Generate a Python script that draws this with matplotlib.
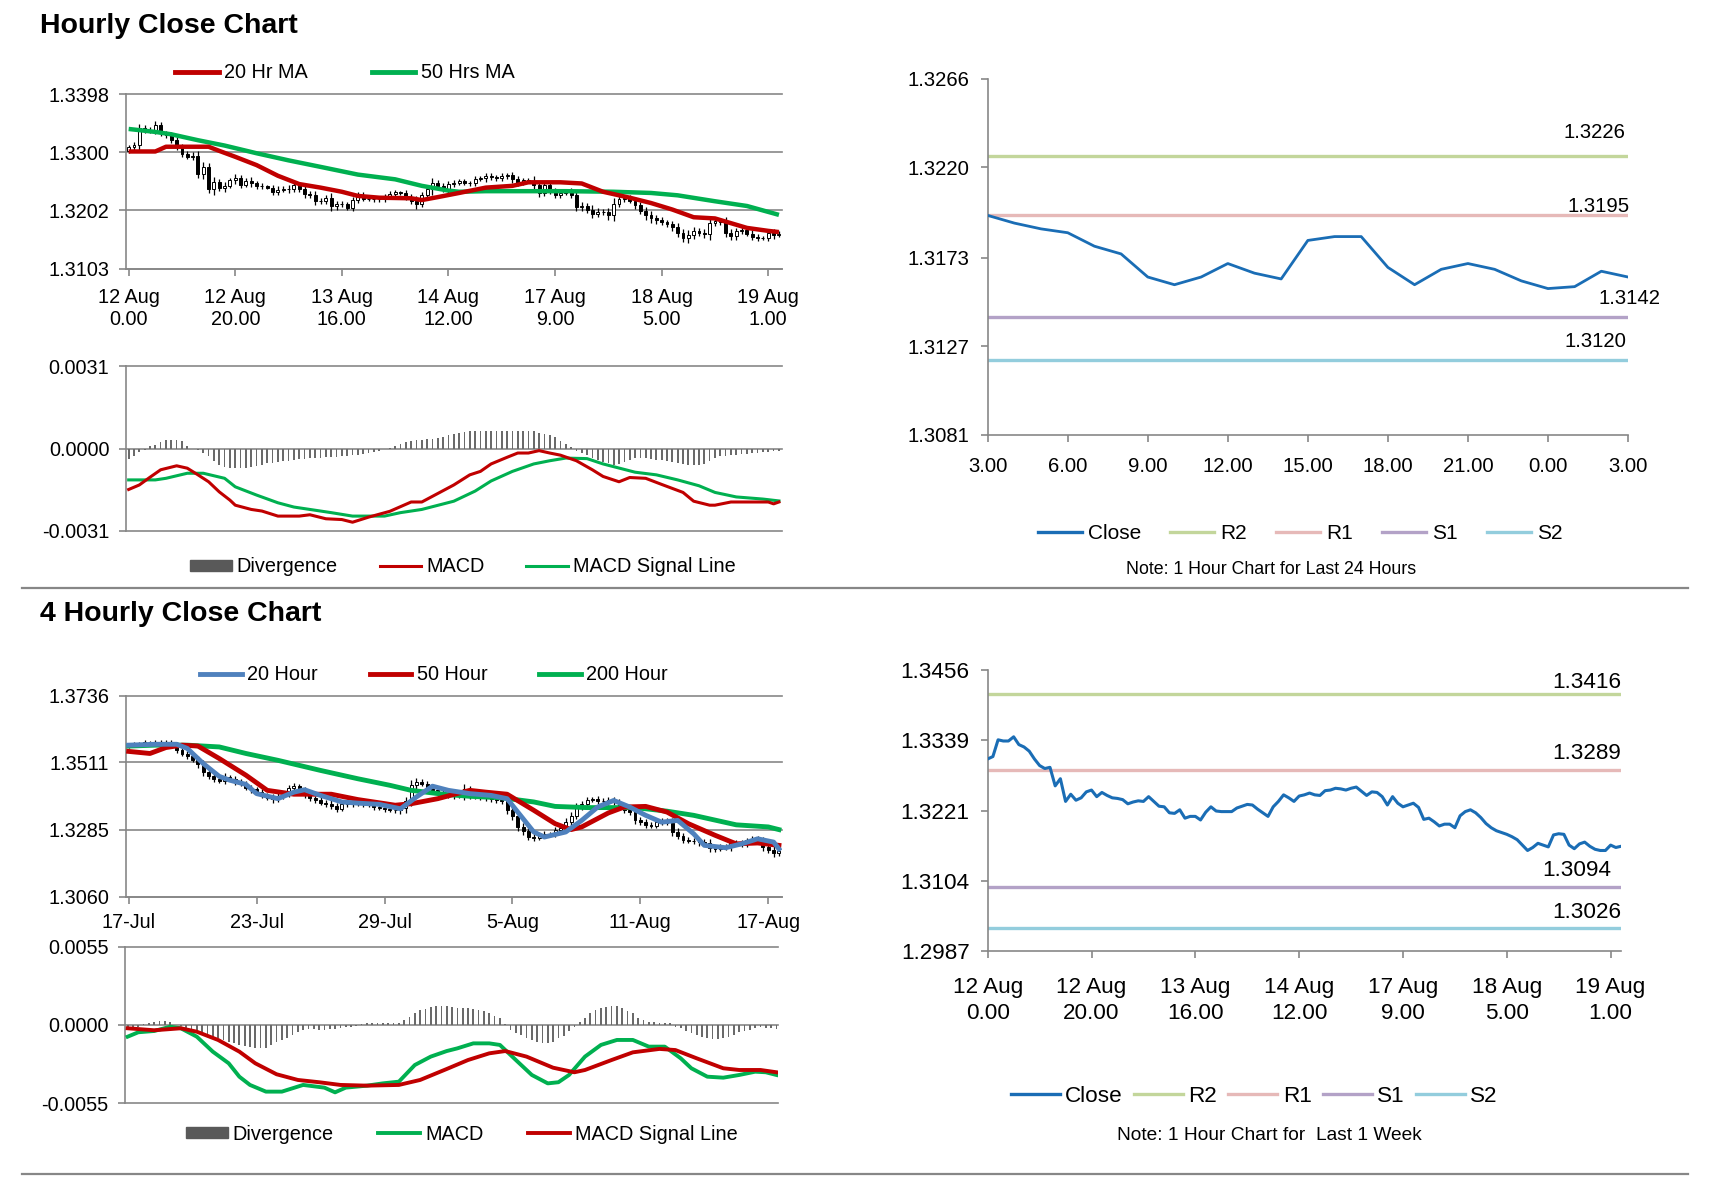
import matplotlib
matplotlib.use("Agg")
import matplotlib.pyplot as plt
import numpy as np
from matplotlib.lines import Line2D
from matplotlib.patches import Patch

plt.rcParams['font.family'] = ['Liberation Sans', 'DejaVu Sans']

# ------------------------------------------------------------------ data
hourly_labels = ["12 Aug\n0.00", "12 Aug\n20.00", "13 Aug\n16.00", "14 Aug\n12.00",
                 "17 Aug\n9.00", "18 Aug\n5.00", "19 Aug\n1.00"]
hourly_first_open = 1.3302
hourly_close = [
    1.3308, 1.3312, 1.3340, 1.3338, 1.3338, 1.3345, 1.3332, 1.3328, 1.3321, 1.3308,
    1.3297, 1.3292, 1.3294, 1.3263, 1.3275, 1.3237, 1.3249, 1.3239, 1.3243, 1.3253,
    1.3256, 1.3245, 1.3252, 1.3247, 1.3243, 1.3242, 1.3240, 1.3233, 1.3236, 1.3238,
    1.3237, 1.3245, 1.3237, 1.3229, 1.3228, 1.3218, 1.3217, 1.3223, 1.3209, 1.3212,
    1.3212, 1.3206, 1.3219, 1.3228, 1.3221, 1.3220, 1.3220, 1.3220, 1.3226, 1.3229,
    1.3232, 1.3231, 1.3224, 1.3218, 1.3212, 1.3228, 1.3237, 1.3248, 1.3243, 1.3237,
    1.3246, 1.3248, 1.3251, 1.3248, 1.3247, 1.3255, 1.3256, 1.3259, 1.3258, 1.3256,
    1.3259, 1.3261, 1.3254, 1.3247, 1.3253, 1.3252, 1.3245, 1.3231, 1.3245, 1.3234,
    1.3228, 1.3231, 1.3234, 1.3227, 1.3207, 1.3209, 1.3203, 1.3196, 1.3199, 1.3199,
    1.3193, 1.3213, 1.3220, 1.3223, 1.3218, 1.3210, 1.3200, 1.3193, 1.3188, 1.3185,
    1.3182, 1.3178, 1.3173, 1.3164, 1.3155, 1.3160, 1.3167, 1.3164, 1.3161, 1.3181,
    1.3183, 1.3182, 1.3164, 1.3158, 1.3166, 1.3169, 1.3162, 1.3157, 1.3155, 1.3155,
    1.3164, 1.3160, 1.3162]
hourly_wick = [
    4, 5, 8, 6, 5, 7, 5, 4, 6, 5,
    5, 4, 6, 7, 8, 6, 9, 5, 6, 4,
    7, 5, 4, 6, 5, 4, 3, 5, 6, 4,
    6, 5, 4, 6, 5, 7, 5, 4, 8, 6,
    5, 4, 6, 5, 4, 3, 4, 5, 4, 5,
    4, 3, 5, 6, 8, 5, 6, 9, 5, 4,
    6, 5, 4, 3, 4, 5, 4, 6, 5, 4,
    5, 4, 6, 5, 3, 4, 7, 6, 5, 4,
    5, 6, 4, 5, 7, 6, 5, 8, 6, 5,
    7, 9, 6, 5, 4, 6, 5, 7, 8, 6,
    5, 4, 6, 8, 6, 9, 7, 5, 6, 10,
    6, 5, 8, 7, 6, 5, 4, 6, 5, 4,
    5, 6, 4]
top_ma20_idx = [0, 5, 7, 15, 17, 20, 24, 28, 32, 36, 40, 43, 47, 53, 55, 58, 62, 67, 72, 75,
                81, 85, 89, 94, 98, 102, 106, 110, 113, 116, 120, 122]
top_ma20 = [1.3301, 1.3301, 1.3309, 1.3309, 1.3302, 1.3292, 1.3278, 1.3260, 1.3246, 1.3240,
            1.3233, 1.3226, 1.3223, 1.3222, 1.3219, 1.3224, 1.3231, 1.3240, 1.3243, 1.3249,
            1.3249, 1.3247, 1.3233, 1.3223, 1.3214, 1.3203, 1.3190, 1.3188, 1.3180, 1.3172,
            1.3167, 1.3165]
top_ma50_idx = [0, 5, 8, 13, 18, 24, 30, 36, 43, 50, 55, 60, 62, 67, 72, 82, 91, 98, 103, 110,
                116, 122]
top_ma50 = [1.3339, 1.3334, 1.3330, 1.3320, 1.3311, 1.3298, 1.3286, 1.3275, 1.3262, 1.3254,
            1.3243, 1.3235, 1.3233, 1.3234, 1.3234, 1.3234, 1.3233, 1.3231, 1.3227, 1.3217,
            1.3209, 1.3194]
top_div = [  # x 1e-4
    -3.8, -3.0, -1.5, -0.5, 0.8, 1.5, 2.5, 3.2, 3.3, 3.2,
    2.8, 1.0, 0.0, -0.6, -1.6, -2.9, -4.8, -6.1, -7.0, -7.4,
    -7.4, -7.4, -7.2, -6.8, -6.4, -6.1, -5.6, -5.4, -5.0, -4.8,
    -4.6, -4.3, -4.0, -3.8, -3.6, -3.5, -3.4, -3.3, -3.2, -3.1,
    -3.0, -2.8, -2.6, -2.3, -2.0, -1.6, -1.2, -0.8, -0.3, 0.2,
    1.0, 1.8, 2.6, 3.0, 3.2, 3.3, 3.4, 3.6, 4.0, 4.5,
    5.0, 5.4, 5.8, 6.2, 6.5, 6.6, 6.6, 6.6, 6.6, 6.6,
    6.6, 6.6, 6.6, 6.6, 6.6, 6.6, 6.6, 6.0, 5.4, 4.9,
    4.2, 3.0, 1.6, 0.4, -0.8, -1.8, -2.6, -3.4, -4.2, -5.0,
    -5.6, -6.1, -6.0, -5.2, -4.3, -3.6, -3.4, -3.6, -4.0, -4.2,
    -4.3, -4.6, -5.0, -5.5, -5.9, -6.2, -6.3, -6.2, -5.8, -4.6,
    -3.6, -3.0, -2.8, -2.6, -2.4, -2.2, -2.0, -1.8, -1.6, -1.4,
    -1.2, -1.0, -0.8]
top_macd_idx = [0, 2, 4, 6, 9, 11, 13, 15, 17, 19, 20, 23, 25, 28, 32, 34, 37, 40, 42, 45,
                49, 53, 55, 58, 61, 64, 66, 68, 71, 73, 75, 77, 79, 81, 84, 87, 89, 92, 94, 97,
                100, 104, 106, 109, 110, 113, 120, 121, 122]
top_macd = [-0.00154, -0.00137, -0.00108, -0.00080, -0.00065, -0.00074, -0.00099, -0.00125,
            -0.00163, -0.00194, -0.00213, -0.00229, -0.00235, -0.00254, -0.00254, -0.00249,
            -0.00264, -0.00267, -0.00277, -0.00258, -0.00236, -0.00201, -0.00201, -0.00169,
            -0.00137, -0.00099, -0.00086, -0.00058, -0.00033, -0.00017, -0.00017, -0.00008,
            -0.00017, -0.00025, -0.00046, -0.00080, -0.00105, -0.00125, -0.00109, -0.00112,
            -0.00135, -0.00165, -0.00198, -0.00213, -0.00213, -0.00201, -0.00201, -0.00208,
            -0.00201]
top_sig_idx = [0, 5, 7, 11, 14, 18, 20, 24, 28, 31, 34, 38, 42, 45, 48, 51, 55, 61, 65, 68,
               72, 76, 79, 82, 86, 89, 95, 99, 103, 107, 110, 114, 119, 122]
top_sig = [-0.00118, -0.00118, -0.00112, -0.00093, -0.00093, -0.00112, -0.00144, -0.00175,
           -0.00204, -0.00220, -0.00229, -0.00241, -0.00254, -0.00254, -0.00254, -0.00241,
           -0.00229, -0.00198, -0.00160, -0.00122, -0.00086, -0.00058, -0.00046, -0.00036,
           -0.00038, -0.00058, -0.00089, -0.00099, -0.00118, -0.00140, -0.00165, -0.00182,
           -0.00190, -0.00197]

day_hour_labels = ["3.00", "6.00", "9.00", "12.00", "15.00", "18.00", "21.00", "0.00", "3.00"]
day_close = [1.3195, 1.3191, 1.3188, 1.3186, 1.3179, 1.3175, 1.3163, 1.3159, 1.3163, 1.3170,
             1.3165, 1.3162, 1.3182, 1.3184, 1.3184, 1.3168, 1.3159, 1.3167, 1.3170, 1.3167,
             1.3161, 1.3157, 1.3158, 1.3166, 1.3163]
level_names = ["R2", "R1", "S1", "S2"]
day_levels = [1.3226, 1.3195, 1.3142, 1.3120]
week_levels = [1.3416, 1.3289, 1.3094, 1.3026]

four_labels = ["17-Jul", "23-Jul", "29-Jul", "5-Aug", "11-Aug", "17-Aug"]
four_first_open = 1.3565
four_close = [
    1.3570, 1.3575, 1.3572, 1.3578, 1.3574, 1.3580, 1.3576, 1.3579, 1.3572, 1.3552,
    1.3540, 1.3533, 1.3520, 1.3505, 1.3480, 1.3465, 1.3455, 1.3450, 1.3462, 1.3455,
    1.3445, 1.3440, 1.3425, 1.3420, 1.3410, 1.3400, 1.3392, 1.3388, 1.3398, 1.3405,
    1.3425, 1.3430, 1.3420, 1.3400, 1.3390, 1.3385, 1.3375, 1.3372, 1.3365, 1.3355,
    1.3370, 1.3376, 1.3372, 1.3375, 1.3370, 1.3368, 1.3360, 1.3358, 1.3355, 1.3352,
    1.3350, 1.3356, 1.3382, 1.3435, 1.3446, 1.3440, 1.3425, 1.3418, 1.3410, 1.3405,
    1.3400, 1.3408, 1.3402, 1.3423, 1.3398, 1.3396, 1.3400, 1.3392, 1.3388, 1.3385,
    1.3380, 1.3350, 1.3330, 1.3295, 1.3280, 1.3261, 1.3258, 1.3266, 1.3270, 1.3268,
    1.3285, 1.3290, 1.3312, 1.3330, 1.3362, 1.3370, 1.3385, 1.3388, 1.3382, 1.3380,
    1.3384, 1.3378, 1.3360, 1.3352, 1.3345, 1.3317, 1.3310, 1.3300, 1.3298, 1.3312,
    1.3315, 1.3308, 1.3278, 1.3265, 1.3250, 1.3248, 1.3245, 1.3242, 1.3240, 1.3222,
    1.3220, 1.3227, 1.3225, 1.3239, 1.3240, 1.3236, 1.3250, 1.3255, 1.3248, 1.3225,
    1.3218, 1.3207, 1.3212]
four_wick = [
    5, 6, 5, 7, 6, 8, 5, 6, 7, 9,
    8, 10, 9, 12, 14, 11, 10, 9, 12, 8,
    10, 9, 8, 11, 9, 10, 8, 12, 9, 10,
    11, 13, 9, 8, 10, 9, 8, 11, 12, 10,
    9, 8, 10, 9, 8, 7, 9, 8, 10, 9,
    8, 11, 14, 16, 12, 10, 9, 8, 10, 9,
    8, 12, 10, 16, 9, 8, 10, 11, 9, 12,
    10, 14, 12, 15, 13, 11, 10, 9, 10, 8,
    9, 10, 12, 14, 11, 10, 9, 8, 10, 9,
    11, 10, 9, 12, 10, 14, 11, 10, 9, 8,
    10, 9, 15, 12, 10, 9, 8, 11, 10, 12,
    9, 8, 10, 11, 9, 10, 8, 9, 10, 12,
    11, 13, 10]
bot_ma20_idx = [0, 5, 9, 11, 14, 17, 19, 22, 24, 28, 31, 33, 36, 40, 43, 47, 51, 54, 57, 60,
                64, 68, 71, 73, 76, 78, 82, 85, 88, 91, 94, 97, 100, 103, 106, 108, 112, 115,
                118, 121, 122]
bot_ma20 = [1.3569, 1.3572, 1.3572, 1.3558, 1.3507, 1.3464, 1.3451, 1.3437, 1.3406, 1.3389,
            1.3411, 1.3419, 1.3400, 1.3378, 1.3374, 1.3370, 1.3355, 1.3395, 1.3431, 1.3417,
            1.3406, 1.3400, 1.3389, 1.3344, 1.3277, 1.3260, 1.3277, 1.3316, 1.3361, 1.3383,
            1.3361, 1.3333, 1.3310, 1.3316, 1.3271, 1.3232, 1.3224, 1.3237, 1.3254, 1.3243,
            1.3220]
bot_ma50_idx = [0, 4, 7, 10, 13, 17, 22, 26, 31, 38, 43, 50, 53, 58, 62, 64, 67, 71, 76, 80,
                83, 85, 90, 93, 97, 101, 105, 110, 114, 118, 122]
bot_ma50 = [1.3548, 1.3541, 1.3561, 1.3569, 1.3566, 1.3524, 1.3468, 1.3417, 1.3404, 1.3404,
            1.3386, 1.3367, 1.3372, 1.3389, 1.3408, 1.3417, 1.3411, 1.3404, 1.3350, 1.3305,
            1.3285, 1.3294, 1.3341, 1.3361, 1.3363, 1.3344, 1.3305, 1.3266, 1.3237, 1.3240,
            1.3232]
bot_ma200_idx = [0, 5, 11, 17, 22, 28, 36, 43, 49, 53, 59, 64, 70, 76, 80, 86, 95, 101, 106,
                 114, 120, 122]
bot_ma200 = [1.3566, 1.3569, 1.3569, 1.3563, 1.3541, 1.3518, 1.3484, 1.3456, 1.3434, 1.3417,
             1.3404, 1.3397, 1.3392, 1.3378, 1.3363, 1.3359, 1.3359, 1.3347, 1.3333, 1.3301,
             1.3294, 1.3285]
bot_div = [  # x 1e-4
    -2.3, -2.0, -1.2, 0.8, 1.6, 2.0, 2.6, 2.8, 2.0, 0.3,
    -1.0, -2.3, -3.5, -4.7, -5.8, -7.0, -8.2, -9.4, -10.5, -11.7,
    -12.9, -14.0, -15.0, -15.5, -16.0, -16.4, -16.2, -14.0, -12.0, -10.5,
    -8.8, -7.0, -5.2, -3.5, -3.0, -2.8, -3.2, -3.5, -3.0, -2.6,
    -2.3, -1.6, -1.2, -0.6, 0.6, 1.2, 1.4, 1.2, 1.5, 1.6,
    1.4, 1.6, 3.5, 5.9, 8.5, 10.5, 11.5, 12.4, 13.2, 13.6,
    13.4, 12.8, 12.2, 11.9, 11.7, 11.2, 10.5, 9.5, 8.2, 6.6,
    4.7, 0.5, -3.5, -5.5, -7.0, -9.0, -10.5, -12.0, -12.9, -12.6,
    -11.7, -9.4, -7.5, -4.5, -1.5, 2.0, 4.7, 8.2, 10.5, 11.7,
    12.8, 13.6, 13.2, 11.7, 9.8, 8.2, 5.0, 3.5, 2.3, 1.9,
    1.6, 1.4, 1.2, -1.2, -2.3, -4.0, -5.9, -7.0, -8.2, -9.4,
    -10.0, -9.6, -9.4, -8.2, -7.0, -4.7, -4.0, -3.5, -2.0, -1.6,
    -2.0, -2.3, -2.8]
bot_macd_idx = [0, 2, 5, 8, 10, 13, 16, 19, 21, 23, 26, 29, 33, 37, 39, 41, 45, 48, 51, 54,
                57, 60, 62, 65, 68, 70, 73, 76, 79, 81, 83, 86, 89, 92, 95, 98, 101, 104, 106,
                109, 112, 115, 118, 120, 122]
bot_macd = [-0.00082, -0.00051, -0.00042, -0.00012, -0.00023, -0.00082, -0.00187, -0.00269,
            -0.00363, -0.00421, -0.00468, -0.00468, -0.00421, -0.00440, -0.00473, -0.00440,
            -0.00426, -0.00410, -0.00398, -0.00281, -0.00222, -0.00183, -0.00164, -0.00129,
            -0.00129, -0.00140, -0.00246, -0.00351, -0.00410, -0.00402, -0.00351, -0.00222,
            -0.00140, -0.00105, -0.00105, -0.00152, -0.00152, -0.00234, -0.00304, -0.00363,
            -0.00370, -0.00351, -0.00328, -0.00332, -0.00351]
bot_sig_idx = [0, 5, 10, 13, 17, 21, 24, 28, 32, 36, 40, 45, 51, 55, 60, 64, 68, 71, 75, 80,
               84, 86, 91, 95, 100, 103, 107, 112, 115, 119, 122]
bot_sig = [-0.00023, -0.00037, -0.00023, -0.00047, -0.00105, -0.00187, -0.00269, -0.00346,
           -0.00386, -0.00402, -0.00421, -0.00426, -0.00421, -0.00386, -0.00309, -0.00246,
           -0.00199, -0.00183, -0.00222, -0.00300, -0.00332, -0.00316, -0.00246, -0.00192,
           -0.00168, -0.00176, -0.00234, -0.00304, -0.00316, -0.00316, -0.00332]

# ------------------------------------------------------------------ style
RED = '#C00000'
GREEN = '#00B050'
BLUE20 = '#4F81BD'
CLOSE = '#1A6DB5'
GRID = '#878787'
DIVC = '#6A6A6A'
LEVEL_COLORS = ['#C3D69B', '#E6B9B8', '#B3A2C7', '#93CDDD']
TS = 14.3   # left panels text
RS = 14.6   # top-right panel text
FS = 16.2   # bottom-right panel text

W, H = 1711, 1178
fig = plt.figure(figsize=(W / 100, H / 100), dpi=100)


def add_ax(l, t, r, b):
    return fig.add_axes([l / W, 1 - b / H, (r - l) / W, (b - t) / H])


def px(v):
    return v * 0.72


def draw_candles(ax, first_open, closes, wicks):
    c = np.array(closes)
    o = np.concatenate([[first_open], c[:-1]])
    w = np.array(wicks) * 1e-4
    x = np.arange(len(c))
    hi = np.maximum(o, c) + w
    lo = np.minimum(o, c) - w
    ax.vlines(x, lo, hi, color='black', lw=0.9, zorder=2)
    up = c >= o
    ax.bar(x, np.abs(c - o), bottom=np.minimum(o, c), width=0.55,
           color=np.where(up, 'white', 'black'), edgecolor='black', lw=0.7, zorder=3)


def style_left(ax, yticks, xticks=None, xlabels=None, xpad=7):
    ax.set_xlim(-0.5, 122.5)
    ax.set_ylim(yticks[0], yticks[-1])
    ax.set_yticks(yticks)
    ax.set_yticklabels([f'{v:.4f}' for v in yticks])
    ax.grid(axis='y', color=GRID, lw=1.2)
    ax.set_axisbelow(True)
    for gl in ax.get_ygridlines():
        gl.set_clip_on(False)
    for s in ('top', 'right'):
        ax.spines[s].set_visible(False)
    for s in ('left', 'bottom'):
        ax.spines[s].set_color(GRID)
        ax.spines[s].set_linewidth(1.2)
    ax.tick_params(axis='both', direction='out', length=5, width=1.2, color=GRID,
                   labelsize=TS, labelcolor='black')
    ax.tick_params(axis='y', pad=7)
    if xticks is None:
        ax.set_xticks([])
        ax.spines['bottom'].set_visible(False)
    else:
        ax.set_xticks(xticks)
        ax.set_xticklabels(xlabels, linespacing=1.2)
        ax.tick_params(axis='x', pad=xpad)


def style_right(ax, yticks, xticks, xlabels, xlim, xpad, size, ls):
    ax.set_xlim(*xlim)
    ax.set_ylim(yticks[0], yticks[-1])
    ax.set_yticks(yticks)
    ax.set_yticklabels([f'{v:.4f}' for v in yticks])
    ax.set_xticks(xticks)
    ax.set_xticklabels(xlabels, linespacing=ls)
    for s in ('top', 'right'):
        ax.spines[s].set_visible(False)
    for s in ('left', 'bottom'):
        ax.spines[s].set_color(GRID)
        ax.spines[s].set_linewidth(1.2)
    ax.tick_params(axis='both', direction='out', length=5, width=1.2, color=GRID,
                   labelsize=size, labelcolor='black')
    ax.tick_params(axis='y', pad=8)
    ax.tick_params(axis='x', pad=xpad)


def legend(handles, left, cy, fs, hl, htp, cs, hh=0.7):
    fig.legend(handles=handles, loc='center left', bbox_to_anchor=(left / W, 1 - cy / H),
               bbox_transform=fig.transFigure, ncol=len(handles), frameon=False,
               borderpad=0, borderaxespad=0, fontsize=fs, handlelength=hl,
               handletextpad=htp, columnspacing=cs, handleheight=hh)


# ------------------------------------------------------------------ titles & separators
fig.text(40 / W, 1 - 26 / H, "Hourly Close Chart", fontsize=20.5, fontweight='bold',
         va='center')
fig.text(40 / W, 1 - 614 / H, "4 Hourly Close Chart", fontsize=20.5, fontweight='bold',
         va='center')
for yy in (588, 1173.5):
    fig.add_artist(Line2D([22 / W, 1688 / W], [1 - yy / H, 1 - yy / H], color=GRID, lw=1.6))

# ------------------------------------------------------------------ A: hourly candles
axA = add_ax(126, 94, 781.6, 268.8)
draw_candles(axA, hourly_first_open, hourly_close, hourly_wick)
axA.plot(top_ma50_idx, top_ma50, color=GREEN, lw=3.2, zorder=4, solid_capstyle='butt')
axA.plot(top_ma20_idx, top_ma20, color=RED, lw=3.2, zorder=5, solid_capstyle='butt')
style_left(axA, [1.3103, 1.3202, 1.3300, 1.3398], list(range(0, 121, 20)), hourly_labels, xpad=8.5)
legend([Line2D([], [], color=RED, lw=3.5, label='20 Hr MA'),
        Line2D([], [], color=GREEN, lw=3.5, label='50 Hrs MA')],
       175, 73, TS, 2.2, 0.28, 3.2)

# ------------------------------------------------------------------ B: hourly MACD
axB = add_ax(126, 366, 781.6, 531)
axB.bar(np.arange(len(top_div)), np.array(top_div) * 1e-4, width=0.32, color=DIVC, zorder=2)
axB.plot(top_sig_idx, top_sig, color=GREEN, lw=2.2, zorder=3)
axB.plot(top_macd_idx, top_macd, color=RED, lw=2.2, zorder=4)
style_left(axB, [-0.0031, 0.0, 0.0031])
legend([Patch(color='#595959', label='Divergence'),
        Line2D([], [], color=RED, lw=2.2, label='MACD'),
        Line2D([], [], color=GREEN, lw=2.2, label='MACD Signal Line')],
       190, 567, TS, 2.1, 0.25, 2.1, hh=0.5)

# ------------------------------------------------------------------ C: last 24 hours
axC = add_ax(987.7, 78.7, 1628, 434.9)
for val, col in zip(day_levels, LEVEL_COLORS):
    axC.axhline(val, color=col, lw=2.4, zorder=2)
axC.plot(np.arange(len(day_close)), day_close, color=CLOSE, lw=2.0, zorder=3)
style_right(axC, [1.3081, 1.3127, 1.3173, 1.3220, 1.3266], list(range(0, 25, 3)),
            day_hour_labels, (0, 24), 11, RS, 1.1)
c_off = [(-3, 23), (2, 9), (33, 18.6), (-2, 18.6)]
for val, (dx, dy) in zip(day_levels, c_off):
    axC.annotate(f'{val:.4f}', xy=(1, val), xycoords=('axes fraction', 'data'),
                 xytext=(px(dx), px(dy)), textcoords='offset points', ha='right', va='center',
                 fontsize=RS)
legend([Line2D([], [], color=CLOSE, lw=2.4, label='Close')] +
       [Line2D([], [], color=c, lw=2.4, label=n) for n, c in zip(level_names, LEVEL_COLORS)],
       1038, 534, 15, 2.1, 0.3, 1.4)
fig.text(1271 / W, 1 - 570 / H, "Note: 1 Hour Chart for Last 24 Hours", ha='center',
         va='center', fontsize=12.8)

# ------------------------------------------------------------------ D: 4 hourly candles
axD = add_ax(126, 695.5, 781.6, 896.5)
draw_candles(axD, four_first_open, four_close, four_wick)
axD.plot(bot_ma200_idx, bot_ma200, color=GREEN, lw=3.5, zorder=4)
axD.plot(bot_ma50_idx, bot_ma50, color=RED, lw=3.5, zorder=5)
axD.plot(bot_ma20_idx, bot_ma20, color=BLUE20, lw=3.5, zorder=6)
style_left(axD, [1.3060, 1.3285, 1.3511, 1.3736], list(range(0, 121, 24)), four_labels, xpad=7)
legend([Line2D([], [], color=BLUE20, lw=3.5, label='20 Hour'),
        Line2D([], [], color=RED, lw=3.5, label='50 Hour'),
        Line2D([], [], color=GREEN, lw=3.5, label='200 Hour')],
       200, 675, TS, 2.1, 0.28, 2.6)

# ------------------------------------------------------------------ E: 4 hourly MACD
axE = add_ax(125, 946.7, 777.5, 1103.3)
axE.bar(np.arange(len(bot_div)), np.array(bot_div) * 1e-4, width=0.32, color=DIVC, zorder=2)
axE.plot(bot_macd_idx, bot_macd, color=GREEN, lw=2.8, zorder=3)
axE.plot(bot_sig_idx, bot_sig, color=RED, lw=2.8, zorder=4)
style_left(axE, [-0.0055, 0.0, 0.0055])
axE.set_xlim(-0.5, 122.2)
legend([Patch(color='#595959', label='Divergence'),
        Line2D([], [], color=GREEN, lw=2.8, label='MACD'),
        Line2D([], [], color=RED, lw=2.8, label='MACD Signal Line')],
       186, 1134, TS, 2.1, 0.25, 2.25, hh=0.5)

# ------------------------------------------------------------------ F: last week
axF = add_ax(987.7, 670.4, 1621, 951)
for val, col in zip(week_levels, LEVEL_COLORS):
    axF.axhline(val, color=col, lw=2.4, zorder=2)
axF.plot(np.arange(len(hourly_close)), hourly_close, color=CLOSE, lw=2.2, zorder=3)
style_right(axF, [1.2987, 1.3104, 1.3221, 1.3339, 1.3456], list(range(0, 121, 20)),
            hourly_labels, (0, 122), 13.5, FS, 1.35)
f_off = [(0, 12), (0, 16.4), (-10, 16.4), (0, 15.3)]
for val, (dx, dy) in zip(week_levels, f_off):
    axF.annotate(f'{val:.4f}', xy=(1, val), xycoords=('axes fraction', 'data'),
                 xytext=(px(dx), px(dy)), textcoords='offset points', ha='right', va='center',
                 fontsize=FS)
legend([Line2D([], [], color=CLOSE, lw=2.4, label='Close')] +
       [Line2D([], [], color=c, lw=2.4, label=n) for n, c in zip(level_names, LEVEL_COLORS)],
       1011, 1096, FS, 2.17, 0.24, 0.5)
fig.text(1269 / W, 1 - 1136 / H, "Note: 1 Hour Chart for  Last 1 Week", ha='center',
         va='center', fontsize=13.8)

fig.savefig('out.png', dpi=100)
